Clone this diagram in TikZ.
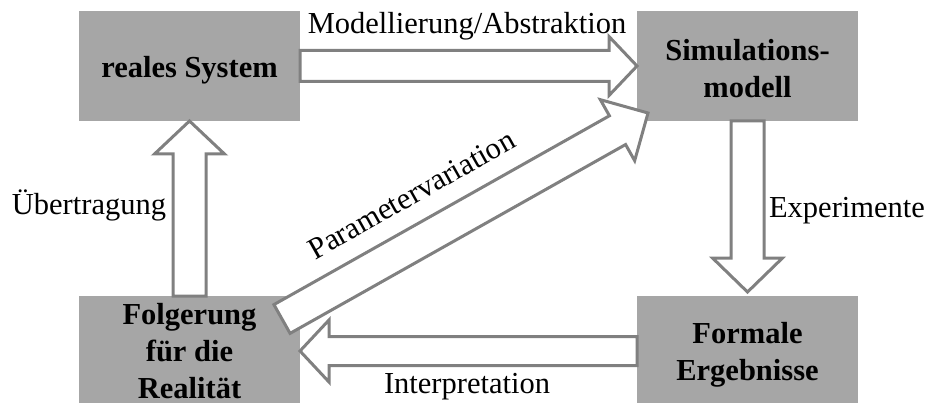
\documentclass[tikz,border=0pt]{standalone}
\usepackage{fontspec}
\setmainfont{Liberation Serif}
\usetikzlibrary{calc}

\definecolor{boxfill}{RGB}{166,166,166}
\definecolor{arrowline}{RGB}{128,128,128}

% Hollow block arrow from #1 to #2:
% #3 = half shaft width, #4 = half head width, #5 = head length
\newcommand\blockarrow[5]{%
  \coordinate (ba-neck) at ($(#2)!#5!(#1)$);
  \draw[hollowarrow]
    ($(#1)!#3!90:(#2)$) -- ($(ba-neck)!#3!90:(#2)$) --
    ($(ba-neck)!#4!90:(#2)$) -- (#2) --
    ($(ba-neck)!#4!-90:(#2)$) -- ($(ba-neck)!#3!-90:(#2)$) --
    ($(#1)!#3!-90:(#2)$) -- cycle;
}

\tikzset{
  stagebox/.style={fill=boxfill, draw=none, minimum width=221pt, minimum height=110pt,
    inner sep=0pt, outer sep=0pt},
  stagetext/.style={inner sep=0pt, outer sep=0pt, align=center,
    font=\fontsize{30.5}{37}\selectfont\bfseries},
  flowlabel/.style={font=\fontsize{30.5}{37}\selectfont, inner sep=0pt, anchor=base},
  hollowarrow/.style={draw=arrowline, fill=white, line width=3pt, line join=miter},
}

\begin{document}
\begin{tikzpicture}[x=1pt, y=1pt]
  \useasboundingbox (0,0) rectangle (928,-403);
  \clip (0,0) rectangle (928,-403);

  % the four stages of the cycle
  \node[stagebox] (real) at (189.5,-66)  {};
  \node[stagebox] (sim)  at (747.5,-66)  {};
  \node[stagebox] (folg) at (189.5,-351) {};
  \node[stagebox] (form) at (747.5,-351) {};

  \node[stagetext] (realText) at ([yshift=-4pt]real.center) {reales System};
  \node[stagetext] (simText)  at ([yshift=-2.5pt]sim.center) {Simulations-\\modell};
  \node[stagetext] (folgText) at (folg.center) {Folgerung\\für die\\Realität};
  \node[stagetext] (formText) at ([yshift=-3.5pt]form.center) {Formale\\Ergebnisse};

  % auxiliary end points
  \coordinate (expEnd) at ($(form.north)+(0,4)$);
  \coordinate (pvTail) at ($(folg.north east)+(-18,-23)$);
  \coordinate (pvTip)  at ($(sim.south west)+(11,8)$);

  % transitions
  \blockarrow{real.east}{sim.west}{15.5pt}{29.5pt}{28pt}
  \blockarrow{sim.south}{expEnd}{16.5pt}{35pt}{34pt}
  \blockarrow{form.west}{folg.east}{14.5pt}{31pt}{29pt}
  \blockarrow{folg.north}{real.south}{16.5pt}{35pt}{33pt}
  \blockarrow{pvTail}{pvTip}{16.5pt}{35pt}{35pt}

  % transition labels
  \node[flowlabel] (lblModel) at (467,-34)  {Modellierung/Abstraktion};
  \node[flowlabel] (lblExp)   at (847,-218) {Experimente};
  \node[flowlabel] (lblInt)   at (467,-393) {Interpretation};
  \node[flowlabel] (lblUeb)   at (89,-215)  {Übertragung};
  \node[flowlabel, rotate=29.4] (lblPar)
    at ($(pvTail)!0.414!(pvTip)!35pt!90:(pvTip)$) {Parametervariation};
\end{tikzpicture}
\end{document}
